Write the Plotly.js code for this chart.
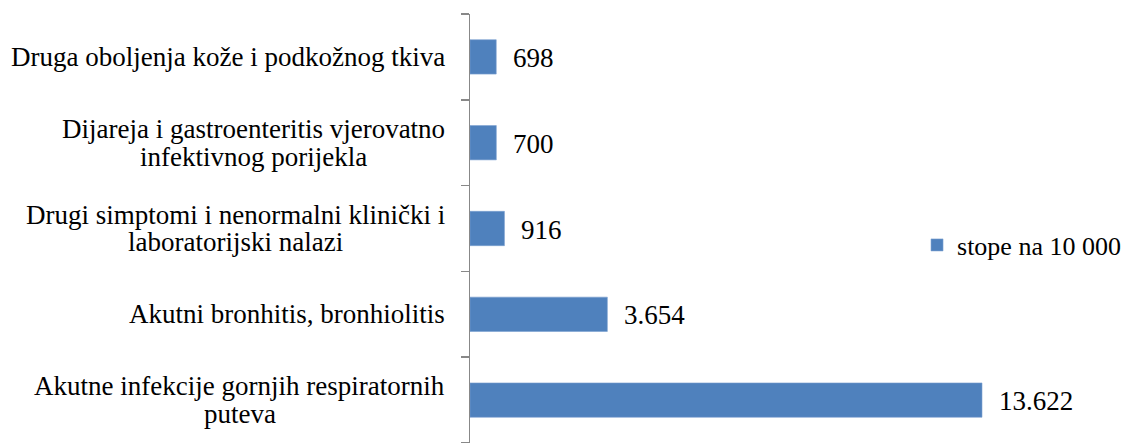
<!DOCTYPE html>
<html>
<head>
<meta charset="utf-8">
<script src="https://cdn.plot.ly/plotly-3.0.1.min.js"></script>
<style>
html,body{margin:0;padding:0;background:#fff;}
#chart{width:1127px;height:443px;}
#chart text{font-family:"Liberation Serif","Times New Roman",serif !important;}
</style>
</head>
<body>
<div id="chart"></div>
<script>
// Categories listed bottom to top
const categories = [
  "Akutne infekcije gornjih respiratornih<br>puteva",
  "Akutni bronhitis, bronhiolitis",
  "Drugi simptomi i nenormalni klinički i<br>laboratorijski nalazi",
  "Dijareja i gastroenteritis vjerovatno<br>infektivnog porijekla",
  "Druga oboljenja kože i podkožnog tkiva"
];
const values = [13622, 3654, 916, 700, 698];
const seriesName = "stope na 10 000";

function fmt(v) {
  return String(Math.round(v)).replace(/\B(?=(\d{3})+(?!\d))/g, ".");
}

const FONT = "Liberation Serif";
const FS = 27;
const LINE_H = 27.7;
const BAR = "#4F81BD";

const cv = document.createElement("canvas").getContext("2d");
cv.font = FS + "px \"Liberation Serif\", serif";

const trace = {
  type: "bar",
  orientation: "h",
  x: values,
  y: categories,
  name: seriesName,
  width: 0.4,
  marker: {color: BAR, line: {color: "#7A9FD0", width: 0.6}},
  hoverinfo: "none",
  showlegend: true
};

const annotations = [];
categories.forEach((c, i) => {
  const lines = c.split("<br>");
  const maxW = Math.max.apply(null, lines.map(l => cv.measureText(l).width));
  lines.forEach((ln, j) => {
    annotations.push({
      xref: "paper", yref: "y", x: 0, y: c, xanchor: "center", yanchor: "middle",
      xshift: -(25 + maxW / 2), yshift: -(j - (lines.length - 1) / 2) * LINE_H,
      text: ln, showarrow: false, borderpad: 0,
      font: {family: FONT, size: FS, color: "#000"}
    });
  });
  annotations.push({
    xref: "x", yref: "y", x: values[i], y: c, xanchor: "left", yanchor: "middle",
    xshift: 16, yshift: -1, text: fmt(values[i]), showarrow: false, borderpad: 0,
    font: {family: FONT, size: FS, color: "#000"}
  });
});

const layout = {
  width: 1127, height: 443,
  margin: {l: 470, r: 0, t: 14, b: 0, pad: 0, autoexpand: false},
  paper_bgcolor: "#fff", plot_bgcolor: "#fff",
  font: {family: FONT, size: FS, color: "#000"},
  xaxis: {range: [0, 17480], visible: false, showgrid: false, zeroline: false, fixedrange: true},
  yaxis: {
    type: "category", range: [-0.5, 4.5],
    showline: true, linecolor: "#888888", linewidth: 1.5,
    ticks: "outside", tickson: "boundaries", ticklen: 8, tickcolor: "#888888", tickwidth: 1.5,
    showticklabels: false, showgrid: false, zeroline: false, fixedrange: true
  },
  showlegend: true,
  legend: {
    x: 0.6804, xanchor: "left", y: 0.4615, yanchor: "middle",
    font: {family: FONT, size: 26, color: "#000"},
    bgcolor: "rgba(0,0,0,0)", borderwidth: 0, itemwidth: 30
  },
  annotations: annotations,
  bargap: 0.6
};

Plotly.newPlot("chart", [trace], layout, {displayModeBar: false, staticPlot: true});
</script>
</body>
</html>
